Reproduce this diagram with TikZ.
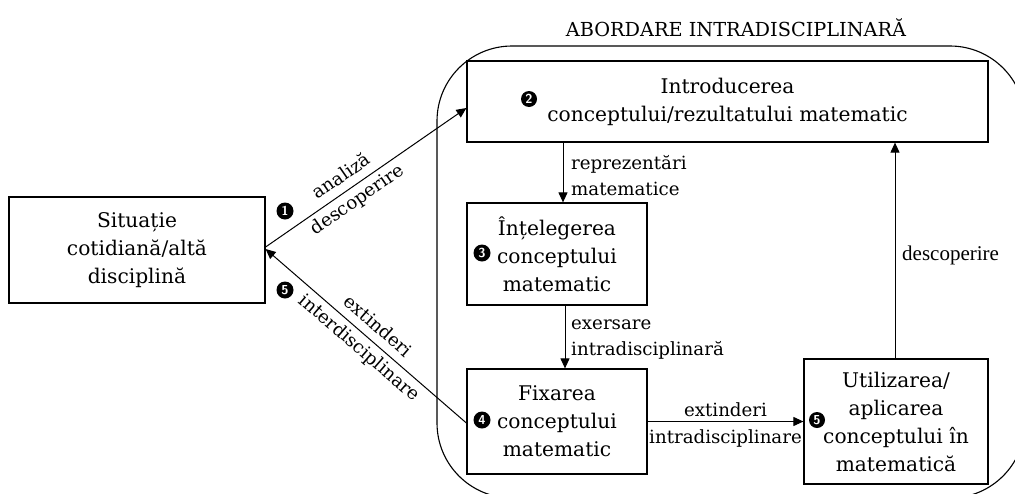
\documentclass[tikz,border=0pt]{standalone}
\usepackage{fontspec}
\setmainfont{DejaVu Serif}
\newfontfamily\timesfont{Liberation Serif}
\usetikzlibrary{arrows.meta,calc}

\begin{document}
\begin{tikzpicture}[x=1pt,y=-1pt,
  box/.style={draw, line width=1.2pt, inner sep=0pt, align=center,
    font=\fontsize{20.2}{28}\selectfont},
  lbl/.style={inner sep=0pt, font=\fontsize{18.2}{26}\selectfont},
  arr/.style={line width=1pt, -{Triangle[length=10pt,width=9pt]}},
  numdot/.style={circle, fill=black, text=white, inner sep=0pt,
    minimum size=17pt, font=\fontsize{13}{13}\sffamily\bfseries\selectfont}
]
\useasboundingbox (0,0) rectangle (1015,493);

% frame of the intradisciplinary approach
\node[draw, line width=1.1pt, rounded corners=75pt, minimum width=588pt,
  minimum height=452pt, inner sep=0pt] (zone) at (731,272) {};
\node[font=\fontsize{19.3}{22}\selectfont] (title) at (736,28)
  {ABORDARE INTRADISCIPLINARĂ};

% boxes
\node[box, minimum width=256pt, minimum height=106pt] (sit) at (137,250)
  {Situație\\cotidiană/altă\\disciplină};
\node[box, minimum width=521pt, minimum height=81pt] (intro) at (727.5,101.5)
  {Introducerea\\conceptului/rezultatului matematic};
\node[box, minimum width=180pt, minimum height=102pt] (und) at (557,254)
  {Înțelegerea\\conceptului\\matematic};
\node[box, minimum width=180pt, minimum height=105pt] (fix) at (557,421.5)
  {Fixarea\\conceptului\\matematic};
\node[box, minimum width=184pt, minimum height=125pt] (util) at (896,421.5)
  {Utilizarea/\\aplicarea\\conceptului în\\matematică};

% step numbers
\node[numdot] (n1) at (285,211) {1};
\node[numdot] (n5a) at (285,290) {5};
\node[numdot, minimum size=16pt] (n2) at (529,99) {2};
\node[numdot] (n3) at (482,253) {3};
\node[numdot] (n4) at (482,420) {4};
\node[numdot, minimum size=16pt] (n5b) at (817,420) {5};

% connectors
\draw[arr] ([yshift=3pt]sit.east) -- ([yshift=-6.5pt]intro.west)
  node[lbl, pos=0.42, sloped, align=center, font=\fontsize{18.2}{28}\selectfont]
  {analiză\\descoperire};
\draw[arr] ([yshift=-1.5pt]fix.west) -- ([yshift=1pt]sit.east)
  node[lbl, pos=0.49, sloped, align=center, font=\fontsize{18.2}{28}\selectfont]
  {extinderi\\interdisciplinare};

\draw[arr] ([xshift=6pt]und.north |- intro.south) -- ([xshift=6pt]und.north);
\node[lbl, align=left, anchor=west] (lrep) at (571,176)
  {reprezentări\\matematice};

\draw[arr] ([xshift=8pt]und.south) -- ([xshift=8pt]fix.north);
\node[lbl, align=left, anchor=west] (lexe) at (571,339.5)
  {exersare\\intradisciplinară};

\draw[arr] (fix.east) -- (util.west)
  node[lbl, midway, yshift=-3pt, align=center, font=\fontsize{18.2}{27}\selectfont]
  {extinderi\\intradisciplinare};

\draw[arr] ([xshift=-1pt]util.north) -- ([xshift=-1pt]util.north |- intro.south);
\node[inner sep=0pt, anchor=west, font=\timesfont\fontsize{21}{24}\selectfont]
  (ldesc) at (902,255) {descoperire};
\end{tikzpicture}
\end{document}
